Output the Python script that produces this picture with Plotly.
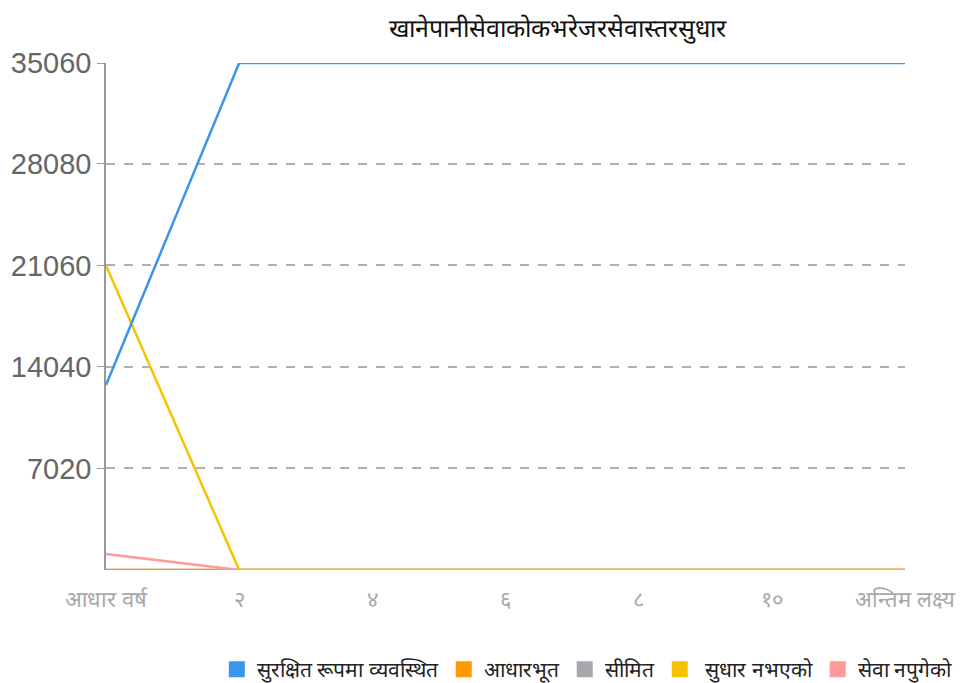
import plotly.graph_objects as go

categories = ["आधार वर्ष", "२", "४", "६", "८", "१०", "अन्तिम लक्ष्य"]
series_names = ["सुरक्षित रूपमा व्यवस्थित", "आधारभूत", "सीमित", " सुधार नभएको", "सेवा नपुगेको"]
safely_managed = [12800, 35060, 35060, 35060, 35060, 35060, 35060]
basic = [0, 0, 0, 0, 0, 0, 0]
limited = [0, 0, 0, 0, 0, 0, 0]
unimproved = [21060, 0, 0, 0, 0, 0, 0]
no_service = [1100, 0, 0, 0, 0, 0, 0]
y_ticks = [7020, 14040, 21060, 28080, 35060]
title_text = "खानेपानीसेवाकोकभरेजरसेवास्तरसुधार"

colors = ["#3a95ee", "#ff9900", "#a6a8ad", "#f5c400", "#ff9a98"]
series = [safely_managed, basic, limited, unimproved, no_service]

fig = go.Figure()
order = [2, 1, 4, 3, 0]
for i in order:
    fig.add_trace(go.Scatter(x=categories, y=series[i], mode="lines",
                             line=dict(color=colors[i], width=2.5),
                             showlegend=False, hoverinfo="skip"))
for i in range(5):
    fig.add_trace(go.Scatter(x=[None], y=[None], mode="markers", name=series_names[i],
                             marker=dict(symbol="square", size=18, color=colors[i]),
                             showlegend=True))

fig.update_layout(
    width=958, height=675,
    margin=dict(l=98, r=61, t=55, b=113, autoexpand=False),
    paper_bgcolor="white", plot_bgcolor="white",
    title=dict(text=title_text, x=0.574, xanchor="center", y=0.97, yanchor="middle",
               font=dict(size=25, color="#111", family="Noto Serif, serif")),
    xaxis=dict(type="category", range=[0, 6], showgrid=False, zeroline=False,
               showline=False, ticks="", tickfont=dict(size=22, color="#a8a8a8"),
               ticklabelstandoff=14, automargin=False),
    yaxis=dict(range=[0, 35060], tickvals=y_ticks, ticktext=[str(v) for v in y_ticks],
               showgrid=True, gridcolor="#b0b0b0", griddash="dash", gridwidth=1.5,
               zeroline=False, showline=True, linecolor="#999", linewidth=1.5,
               ticks="outside", ticklen=7, tickcolor="#999", automargin=False,
               tickfont=dict(size=29, color="#666", family="Liberation Sans, Arial")),
    legend=dict(orientation="h", xref="container", yref="container",
                x=0.218, xanchor="left", y=0.02, yanchor="middle",
                font=dict(size=21, color="#222"), itemwidth=30, tracegroupgap=0),
)

fig.write_html("out.html")
